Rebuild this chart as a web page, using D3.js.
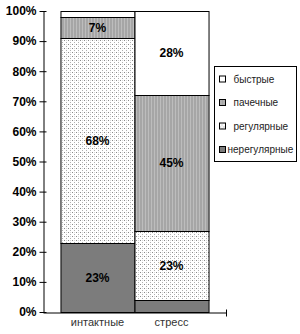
<!DOCTYPE html>
<html>
<head>
<meta charset="utf-8">
<script src="https://cdn.jsdelivr.net/npm/d3@7"></script>
<style>
  body { margin: 0; background: #fff; }
  svg { display: block; font-family: Arial, "Liberation Sans", sans-serif; }
</style>
</head>
<body>
<div id="chart"></div>
<script>
// chart data
const categories = ["интактные", "стресс"];
const seriesNames = ["нерегулярные", "регулярные", "пачечные", "быстрые"];
const intactValues = [23, 68, 7, 2];
const stressValues = [4, 23, 45, 28];
const yTicks = [0, 10, 20, 30, 40, 50, 60, 70, 80, 90, 100];

const fills = {
  "нерегулярные": "#7c7c7c",
  "регулярные": "url(#dots)",
  "пачечные": "url(#stripes)",
  "быстрые": "#ffffff",
};

const width = 300;
const height = 334;

const svg = d3
  .select("#chart")
  .append("svg")
  .attr("width", width)
  .attr("height", height);

// fill patterns
const defs = svg.append("defs");

const dots = defs
  .append("pattern")
  .attr("id", "dots")
  .attr("patternUnits", "userSpaceOnUse")
  .attr("width", 4)
  .attr("height", 4);
dots.append("rect").attr("width", 4).attr("height", 4).attr("fill", "#fff");
dots.append("rect").attr("x", 0).attr("y", 0).attr("width", 1).attr("height", 1).attr("fill", "#8a8a8a");
dots.append("rect").attr("x", 2).attr("y", 2).attr("width", 1).attr("height", 1).attr("fill", "#b0b0b0");
dots.append("rect").attr("x", 2).attr("y", 0).attr("width", 1).attr("height", 1).attr("fill", "#d8d8d8");

const stripes = defs
  .append("pattern")
  .attr("id", "stripes")
  .attr("patternUnits", "userSpaceOnUse")
  .attr("width", 3)
  .attr("height", 3);
stripes.append("rect").attr("width", 3).attr("height", 3).attr("fill", "#a6a6a6");
stripes.append("rect").attr("x", 1).attr("width", 1).attr("height", 3).attr("fill", "#bdbdbd");

// scales
const y = d3.scaleLinear().domain([0, 100]).range([312, 11]);
const x = d3
  .scaleBand()
  .domain(categories)
  .range([43, 226])
  .paddingInner(0)
  .paddingOuter(0.236);

// stack the two series into rows
const rows = categories.map((c, i) => {
  const vals = i === 0 ? intactValues : stressValues;
  const row = { category: c };
  seriesNames.forEach((s, j) => (row[s] = vals[j]));
  return row;
});
const stacked = d3.stack().keys(seriesNames)(rows);

const layers = svg
  .append("g")
  .selectAll("g")
  .data(stacked)
  .enter()
  .append("g")
  .attr("fill", (d) => fills[d.key]);

layers
  .selectAll("rect")
  .data((d) => d)
  .enter()
  .append("rect")
  .attr("x", (d) => x(d.data.category) + 0.5)
  .attr("y", (d) => Math.round(y(d[1])) + 0.5)
  .attr("width", x.bandwidth())
  .attr("height", (d) => Math.round(y(d[0])) - Math.round(y(d[1])))
  .attr("stroke", "#000")
  .attr("stroke-width", 1);

// value labels inside the bigger segments
layers
  .selectAll("text")
  .data((d) => d.filter((p) => p[1] - p[0] >= 5))
  .enter()
  .append("text")
  .attr("x", (d) => x(d.data.category) + x.bandwidth() / 2)
  .attr("y", (d) => y((d[0] + d[1]) / 2))
  .attr("dy", "0.36em")
  .attr("text-anchor", "middle")
  .attr("fill", "#000")
  .style("font-size", "12px")
  .style("font-weight", "bold")
  .text((d) => `${d[1] - d[0]}%`);

// y axis with crossing ticks
const yAxis = svg
  .append("g")
  .attr("transform", "translate(43.5,0)")
  .call(
    d3
      .axisLeft(y)
      .tickValues(yTicks)
      .tickSize(4)
      .tickSizeOuter(0)
      .tickPadding(3)
      .tickFormat((d) => `${d}%`)
  );
yAxis.select(".domain").attr("stroke", "#000");
yAxis.selectAll(".tick line").attr("x2", 3).attr("x1", -4).attr("stroke", "#000");
yAxis
  .selectAll(".tick text")
  .attr("fill", "#000")
  .style("font-size", "12px")
  .style("font-weight", "bold")
  .style("font-family", "Arial, 'Liberation Sans', sans-serif");

// x axis
const xAxis = svg
  .append("g")
  .attr("transform", "translate(0,312.5)")
  .call(d3.axisBottom(x).tickSize(0).tickSizeOuter(0).tickPadding(6));
xAxis.select(".domain").attr("stroke", "#000");
xAxis
  .selectAll(".tick text")
  .attr("fill", "#333")
  .style("font-size", "11px")
  .style("font-family", "Arial, 'Liberation Sans', sans-serif");
xAxis
  .append("line")
  .attr("x1", 226.5)
  .attr("x2", 226.5)
  .attr("y1", -3)
  .attr("y2", 4)
  .attr("stroke", "#000");

// legend
const legend = svg.append("g").attr("transform", "translate(214.5,66.5)");
legend
  .append("rect")
  .attr("width", 82)
  .attr("height", 95)
  .attr("fill", "#fff")
  .attr("stroke", "#000");

const legendItems = legend
  .selectAll(".item")
  .data(seriesNames.slice().reverse())
  .enter()
  .append("g")
  .attr("class", "item")
  .attr("transform", (d, i) => `translate(5,${13 + i * 23.5})`);

legendItems
  .append("rect")
  .attr("x", 0)
  .attr("y", -3.5)
  .attr("width", 6)
  .attr("height", 6)
  .attr("fill", (d) => fills[d])
  .attr("stroke", "#000");

legendItems
  .append("text")
  .attr("x", (d) => (d.length > 10 ? 8 : 14))
  .attr("y", 0)
  .attr("dy", "0.33em")
  .attr("fill", "#222")
  .style("font-size", "10px")
  .text((d) => d);
</script>
</body>
</html>
